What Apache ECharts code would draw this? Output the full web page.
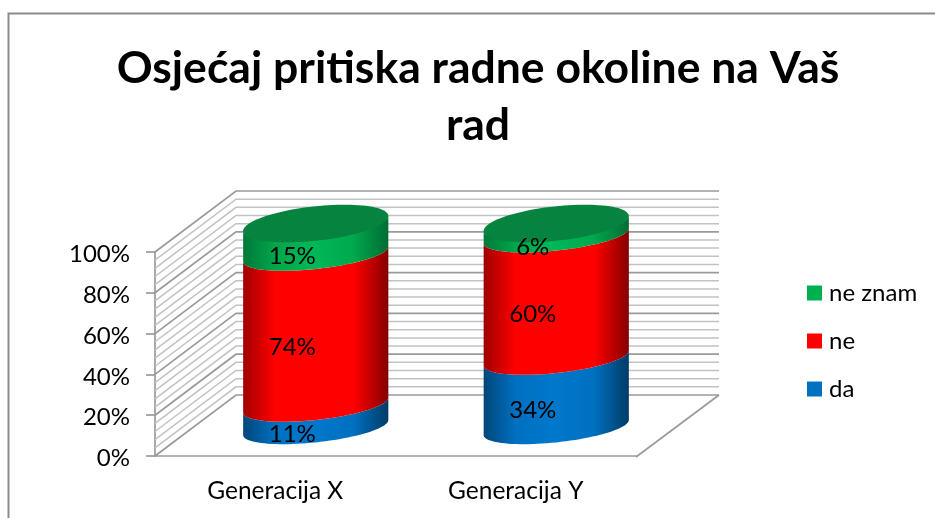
<!DOCTYPE html>
<html><head><meta charset="utf-8">
<style>html,body{margin:0;padding:0;background:#fff}#c{width:935px;height:518px}</style>
<script src="https://cdn.jsdelivr.net/npm/echarts@6/dist/echarts.min.js"></script>
</head><body><div id="c"></div>
<script>
const categories = ['Generacija X', 'Generacija Y'];
const da = [11, 34];
const ne = [74, 60];
const neZnam = [15, 6];
const wallTicks = [0,4,8,12,16,20,24,28,32,36,40,44,48,52,56,60,64,68,72,76,80,84,88,92,96,100];
const titleText = 'Osjećaj pritiska radne okoline na Vaš\nrad';

const DX = 81, DY = -61;            // depth of the 3D box
const BASE_X = 40.5, BASE_Y = -28.5;  // where the cylinders stand on the floor
const A = 73, B_TOP = 17.2, B_BODY = 14.8, ROT = -6.2 * Math.PI / 180;
const FONT = 'Lato';
const GRID_LINE = '#9a9a9a', MINOR_LINE = '#c2c2c2';

function ell(cx, cy, t, B) {
  const c = Math.cos(t), s = Math.sin(t), cr = Math.cos(ROT), sr = Math.sin(ROT);
  return [cx + A * c * cr - B * s * sr, cy + A * c * sr + B * s * cr];
}
function frontArc(cx, cy, B, reverse) {
  const t0 = Math.atan2(-B * Math.sin(ROT), A * Math.cos(ROT));
  const pts = [];
  for (let i = 0; i <= 48; i++) pts.push(ell(cx, cy, t0 + Math.PI * i / 48, B));
  return reverse ? pts.reverse() : pts;
}
function fullEll(cx, cy, B) {
  const pts = [];
  for (let i = 0; i < 96; i++) pts.push(ell(cx, cy, Math.PI * 2 * i / 96, B));
  return pts;
}
const shades = {
  blue:  ['#00467a', '#0070c0', '#0078cc', '#0070c0', '#003c66'],
  red:   ['#a00000', '#ff0000', '#ff0000', '#ff0000', '#850000'],
  green: ['#00793a', '#00a64a', '#00b858', '#00a84c', '#006c34']
};
function grad(c) {
  return new echarts.graphic.LinearGradient(0, 0, 1, 0, [
    {offset: 0, color: c[0]}, {offset: 0.22, color: c[1]}, {offset: 0.48, color: c[2]},
    {offset: 0.76, color: c[3]}, {offset: 1, color: c[4]}
  ]);
}
function cylinderSeries(name, values, below, shade, legendColor, isTop) {
  return {
    name, type: 'custom', coordinateSystem: 'cartesian2d', z: 5,
    itemStyle: {color: legendColor},
    data: values.map((v, i) => [i, below[i], below[i] + v, v]),
    renderItem(params, api) {
      const p0 = api.coord([api.value(0), api.value(1)]);
      const p1 = api.coord([api.value(0), api.value(2)]);
      const cx = p0[0] + BASE_X, y0 = p0[1] + BASE_Y, y1 = p1[1] + BASE_Y;
      const poly = frontArc(cx, y0, B_BODY).concat(frontArc(cx, y1, B_BODY, true));
      const kids = [{
        type: 'polygon', shape: {points: poly}, style: {fill: grad(shade)}
      }];
      if (isTop) kids.push({
        type: 'polygon', shape: {points: fullEll(cx, y1, B_TOP)}, style: {fill: '#06843f'}
      });
      kids.push({
        type: 'text', z2: 10,
        style: {
          text: api.value(3) + '%', x: cx - 23.5, y: (y0 + y1) / 2 + 17.5,
          align: 'center', verticalAlign: 'middle',
          font: '24px ' + FONT, fill: '#000'
        }
      });
      return {type: 'group', children: kids};
    }
  };
}
const below2 = da.map((v, i) => v + ne[i]);
const zeros = da.map(() => 0);

const wallSeries = {
  type: 'custom', coordinateSystem: 'cartesian2d', z: 1, silent: true,
  data: wallTicks.map(v => [0, v]),
  encode: {x: 0, y: 1},
  renderItem(params, api) {
    const cs = params.coordSys;
    const y = api.coord([0, api.value(1)])[1];
    const major = api.value(1) % 20 === 0;
    const x0 = cs.x, x1 = cs.x + cs.width;
    return {
      type: 'polyline',
      shape: {points: [[x0, y], [x0 + DX, y + DY], [x1 + DX + 2, y + DY]]},
      style: {stroke: major ? GRID_LINE : MINOR_LINE, lineWidth: major ? 1.7 : 1.5, fill: null}
    };
  }
};
const floorSeries = {
  type: 'custom', coordinateSystem: 'cartesian2d', z: 2, silent: true,
  data: [[0, 0]],
  renderItem(params, api) {
    const cs = params.coordSys;
    const y = api.coord([0, 0])[1];
    const x1 = cs.x + cs.width;
    return {
      type: 'polyline',
      shape: {points: [[x1, y + 1], [x1 + DX + 2, y + DY]]},
      style: {stroke: GRID_LINE, lineWidth: 1.7, fill: null}
    };
  }
};

const chart = echarts.init(document.getElementById('c'), null, {renderer: 'canvas'});
chart.setOption({
  animation: false,
  backgroundColor: '#fff',
  graphic: [{
    type: 'polyline', silent: true,
    shape: {points: [[8.5, 530], [8.5, 13.5], [940, 13.5]]},
    style: {stroke: '#8c8c8c', lineWidth: 2, fill: null}
  }],
  title: {
    text: titleText, left: 473, top: 35, textAlign: 'center',
    textStyle: {fontFamily: FONT, fontWeight: 'bold', fontSize: 44.5, lineHeight: 57, color: '#000'}
  },
  legend: {
    data: ['ne znam', 'ne', 'da'], orient: 'vertical', left: 807, top: 279, padding: 0,
    icon: 'rect', itemWidth: 15, itemHeight: 15, itemGap: 20, selectedMode: false,
    textStyle: {fontFamily: FONT, fontSize: 24, lineHeight: 28, color: '#000', padding: [0, 0, 0, 2]}
  },
  grid: {left: 155, top: 252, width: 481, height: 204},
  xAxis: {
    type: 'category', data: categories, boundaryGap: true,
    axisLine: {lineStyle: {color: GRID_LINE, width: 1.7}},
    axisTick: {show: false},
    axisLabel: {fontFamily: FONT, fontSize: 24.5, color: '#000', margin: 23}
  },
  yAxis: {
    type: 'value', min: 0, max: 100, interval: 20,
    axisLine: {show: true, lineStyle: {color: GRID_LINE, width: 1.7}},
    axisTick: {show: true, length: 9, lineStyle: {color: GRID_LINE, width: 1.7}},
    splitLine: {show: false},
    axisLabel: {
      color: '#000', margin: 25, formatter: '{a|{value}%}',
      rich: {a: {fontFamily: FONT, fontSize: 24, color: '#000', padding: [5, 0, 0, 0]}}
    }
  },
  series: [
    wallSeries, floorSeries,
    cylinderSeries('da', da, zeros, shades.blue, '#0070c0', false),
    cylinderSeries('ne', ne, da, shades.red, '#ff0000', false),
    cylinderSeries('ne znam', neZnam, below2, shades.green, '#00b050', true)
  ]
});
</script></body></html>
